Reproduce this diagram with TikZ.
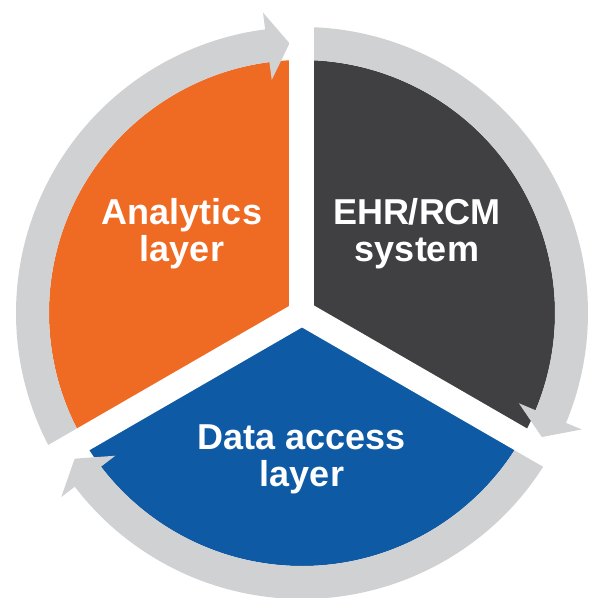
\documentclass[tikz,border=0pt]{standalone}
\usepackage{fontspec}
\setmainfont{Liberation Sans}
\definecolor{analyticsorange}{RGB}{239,106,35}
\definecolor{ehrgrey}{RGB}{64,64,66}
\definecolor{accessblue}{RGB}{14,90,164}
\definecolor{ringgrey}{RGB}{208,209,211}
\begin{document}
\begin{tikzpicture}
        [
            x = 1pt, y = 1pt,
            ring/.style = {draw = ringgrey, line width = 33pt},
            headfill/.style = {fill = ringgrey},
            gapline/.style = {draw = white, line width = 25pt},
            layertext/.style = {text = white, inner sep = 0pt, align = center,
                font = \fontsize{36}{37}\selectfont\bfseries},
        ]
        \useasboundingbox (-302,-285) rectangle (287,313);
        \clip (-302,-285) rectangle (287,313);
        \fill[analyticsorange] (0,0) -- (90:253) arc (90:210:253) -- cycle;
        \fill[ehrgrey] (0,0) -- (-30:253) arc (-30:90:253) -- cycle;
        \fill[accessblue] (0,0) -- (210:253) arc (210:330:253) -- cycle;
        \draw[ring] (210:269.5) arc (210:97:269.5);
        \draw[ring] (90:269.5) arc (90:-23:269.5);
        \draw[ring] (-30:269.5) arc (-30:-143:269.5);
        \fill[headfill] (97.4:235) -- (92.65:270) -- (97.4:303) -- cycle;
        \fill[headfill] (-22.6:235) -- (-27.35:270) -- (-22.6:303) -- cycle;
        \fill[headfill] (217.4:235) -- (212.65:270) -- (217.4:303) -- cycle;
        \draw[gapline] (0,0) -- (90:330);
        \draw[gapline] (0,0) -- (210:330);
        \draw[gapline] (0,0) -- (330:330);
        \node[layertext] (analytics) at (-120,79) {Analytics\\layer};
        \node[layertext] (ehr) at (115,79) {EHR/RCM\\system};
        \node[layertext] (access) at (0,-146) {Data access\\layer};
    \end{tikzpicture}
\end{document}
